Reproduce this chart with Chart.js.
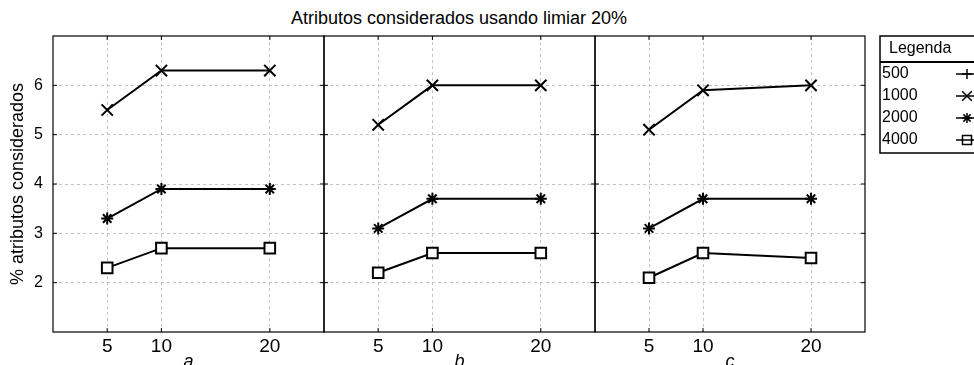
<!DOCTYPE html>
<html>
<head>
<meta charset="utf-8">
<script src="https://cdn.jsdelivr.net/npm/chart.js@4.4.1/dist/chart.umd.min.js"></script>
<style>
    html, body { margin: 0; padding: 0; background: #fff; overflow: hidden; width: 974px; height: 365px; }
    .panel { position: absolute; top: 0; height: 380px; }
    #title {
        position: absolute; top: 8px; left: 0; width: 918px; text-align: center;
        font: 18px "Liberation Sans", Arial, sans-serif; color: #000;
    }
</style>
</head>
<body>
<div id="title">Atributos considerados usando limiar 20%</div>
<div class="panel" style="left:0"><canvas id="panel-a"></canvas></div>
<div class="panel" style="left:320px"><canvas id="panel-b"></canvas></div>
<div class="panel" style="left:591px"><canvas id="panel-c"></canvas></div>
<script>
// ─── Datos ──────────────────────────────────────────────────

const xValues = [5, 10, 20];
const xTicks = [5, 10, 20];
const yTicks = [2, 3, 4, 5, 6];
const seriesLabels = ['500', '1000', '2000', '4000'];
const panelLabels = ['a', 'b', 'c'];

// panel a
const a500 = [null, null, null];
const a1000 = [5.5, 6.3, 6.3];
const a2000 = [3.3, 3.9, 3.9];
const a4000 = [2.3, 2.7, 2.7];
// panel b
const b500 = [null, null, null];
const b1000 = [5.2, 6.0, 6.0];
const b2000 = [3.1, 3.7, 3.7];
const b4000 = [2.2, 2.6, 2.6];
// panel c
const c500 = [null, null, null];
const c1000 = [5.1, 5.9, 6.0];
const c2000 = [3.1, 3.7, 3.7];
const c4000 = [2.1, 2.6, 2.5];

(function () {
    'use strict';

    const FONT = '"Liberation Sans", Arial, sans-serif';
    const GRID = '#c4c4c4';
    const MARKERS = [
        { pointStyle: 'cross', pointRadius: 6 },
        { pointStyle: 'crossRot', pointRadius: 8 },
        { pointStyle: 'star', pointRadius: 6 },
        { pointStyle: 'rect', pointRadius: 7.5 },
    ];

    // ─── Helpers ────────────────────────────────────────────────

    function points(values) {
        return xValues.map(function (x, i) { return { x: x, y: values[i] }; });
    }

    function datasets(series) {
        return series.map(function (values, i) {
            return Object.assign({
                label: seriesLabels[i],
                data: points(values),
                borderColor: '#000',
                borderWidth: 2,
                pointBackgroundColor: '#fff',
                pointBorderColor: '#000',
                pointBorderWidth: 2,
                pointHoverRadius: 8,
                tension: 0,
            }, MARKERS[i]);
        });
    }

    // marco negro + marcas de tick hacia dentro
    const frame = {
        id: 'frame',
        afterDraw(chart) {
            const { ctx, chartArea: a, scales } = chart;
            ctx.save();
            ctx.strokeStyle = '#000';
            ctx.lineWidth = 1.2;
            ctx.strokeRect(a.left, a.top, a.right - a.left, a.bottom - a.top);
            ctx.lineWidth = 1;
            ctx.beginPath();
            scales.x.ticks.forEach(function (t) {
                const px = scales.x.getPixelForValue(t.value);
                ctx.moveTo(px, a.bottom); ctx.lineTo(px, a.bottom - 4);
                ctx.moveTo(px, a.top); ctx.lineTo(px, a.top + 4);
            });
            scales.y.ticks.forEach(function (t) {
                const py = scales.y.getPixelForValue(t.value);
                ctx.moveTo(a.left, py); ctx.lineTo(a.left + 4, py);
                ctx.moveTo(a.right, py); ctx.lineTo(a.right - 4, py);
            });
            ctx.stroke();
            ctx.restore();
        },
    };

    // leyenda en caja, a la derecha del último panel
    const boxLegend = {
        id: 'boxLegend',
        afterDraw(chart) {
            const ctx = chart.ctx;
            const x0 = chart.chartArea.right + 15;
            const y0 = 36;
            ctx.save();
            ctx.strokeStyle = '#000';
            ctx.lineWidth = 1.5;
            ctx.strokeRect(x0, y0, 130, 117);
            ctx.lineWidth = 2;
            ctx.beginPath();
            ctx.moveTo(x0, y0 + 26); ctx.lineTo(x0 + 130, y0 + 26);
            ctx.stroke();
            ctx.fillStyle = '#000';
            ctx.textBaseline = 'middle';
            ctx.font = '16px ' + FONT;
            ctx.fillText('Legenda', x0 + 9, y0 + 13);
            chart.data.datasets.forEach(function (ds, i) {
                const y = y0 + 38 + i * 22;
                ctx.fillStyle = '#000';
                ctx.fillText(ds.label, x0 + 2, y);
                ctx.lineWidth = 1.5;
                ctx.beginPath();
                ctx.moveTo(x0 + 76, y); ctx.lineTo(x0 + 100, y);
                ctx.stroke();
                ctx.fillStyle = '#fff';
                Chart.helpers.drawPoint(ctx, {
                    pointStyle: ds.pointStyle,
                    radius: ds.pointRadius * 0.85,
                    rotation: 0,
                    borderWidth: 1.5,
                }, x0 + 87, y);
                if (ds.pointStyle === 'rect') {
                    ctx.beginPath();
                    ctx.moveTo(x0 + 82, y); ctx.lineTo(x0 + 93, y);
                    ctx.stroke();
                }
            });
            ctx.restore();
        },
    };

    // ─── Paneles ────────────────────────────────────────────────

    function makePanel(id, series, idx, cfg) {
        const canvas = document.getElementById(id);
        canvas.width = cfg.width;
        canvas.height = 380;
        const first = idx === 0;
        const plugins = [frame];
        if (cfg.legend) plugins.push(boxLegend);

        return new Chart(canvas, {
            type: 'line',
            data: { datasets: datasets(series) },
            plugins: plugins,
            options: {
                responsive: false,
                animation: false,
                layout: {
                    autoPadding: false,
                    padding: { top: 36, left: cfg.padLeft, right: cfg.padRight, bottom: 0 },
                },
                plugins: { legend: { display: false }, tooltip: { enabled: false }, title: { display: false } },
                scales: {
                    x: {
                        type: 'linear',
                        min: 0,
                        max: 25,
                        afterBuildTicks: function (s) { s.ticks = xTicks.map(function (v) { return { value: v }; }); },
                        afterFit: function (s) { s.height = 48; },
                        ticks: { color: '#000', font: { size: 19, family: FONT }, padding: 3, maxRotation: 0 },
                        grid: { color: GRID, lineWidth: 1, drawTicks: false },
                        border: { display: false, dash: [3, 3] },
                        title: {
                            display: true,
                            text: panelLabels[idx],
                            color: '#000',
                            font: { size: 18, style: 'italic', family: FONT },
                            padding: { top: 0, bottom: 7 },
                        },
                    },
                    y: {
                        min: 1,
                        max: 7,
                        afterBuildTicks: function (s) { s.ticks = yTicks.map(function (v) { return { value: v }; }); },
                        afterFit: function (s) { s.width = first ? 53 : 0; },
                        ticks: { display: first, color: '#000', font: { size: 16, family: FONT }, padding: 10 },
                        grid: { color: GRID, lineWidth: 1, drawTicks: false },
                        border: { display: false, dash: [3, 3] },
                        title: {
                            display: first,
                            text: '% atributos considerados',
                            color: '#000',
                            font: { size: 18, family: FONT },
                            padding: { top: 7, bottom: 0 },
                        },
                    },
                },
            },
        });
    }

    makePanel('panel-a', [a500, a1000, a2000, a4000], 0, { width: 326, padLeft: 0, padRight: 2 });
    makePanel('panel-b', [b500, b1000, b2000, b4000], 1, { width: 279, padLeft: 4, padRight: 4 });
    makePanel('panel-c', [c500, c1000, c2000, c4000], 2, { width: 383, padLeft: 4, padRight: 109, legend: true });
})();
</script>
</body>
</html>
